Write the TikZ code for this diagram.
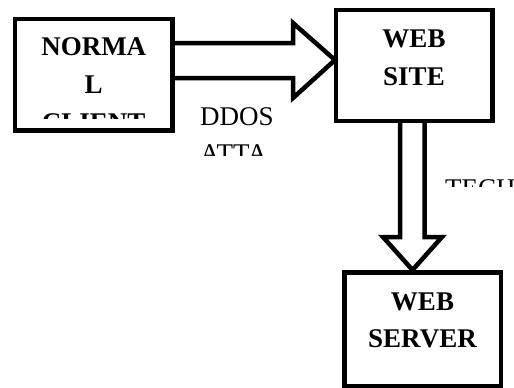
\documentclass[tikz,border=0pt]{standalone}
\usepackage{fontspec}
\setmainfont{Liberation Serif}
\usetikzlibrary{calc}
\begin{document}
\begin{tikzpicture}[x=1pt,y=-1pt,
  box/.style={draw, line width=4.5pt, inner sep=0pt, outer sep=0pt},
  fatarrow/.style={draw, line width=4.5pt, line join=miter},
  boxtext/.style={font=\fontsize{27}{38}\selectfont\bfseries, inner sep=0pt, anchor=base},
  plaintext/.style={font=\fontsize{27}{38}\selectfont, inner sep=0pt, anchor=base west}]
\useasboundingbox (0,0) rectangle (514,388);
\clip (0,0) rectangle (514,388);

% boxes
\node[box, minimum width=157.5pt, minimum height=111.5pt] (client) at (93.75,74.75) {};
\node[box, minimum width=156.5pt, minimum height=111pt] (site) at (414.25,65.5) {};
\node[box, minimum width=156.5pt, minimum height=113.5pt] (server) at (422.75,329.25) {};

% hollow arrow: client -> site
\draw[fatarrow] (client.east |- 0,43) -- (293,43) -- (293,23)
  -- ([xshift=-1pt]site.west |- 0,60) -- (293,98) -- (293,78) -- (client.east |- 0,78);

% hollow arrow: site -> server
\draw[fatarrow] (400,0 |- site.south) -- (400,237) -- (383,237)
  -- ([yshift=2.5pt]server.north -| 412.5,0) -- (442,237) -- (424.5,237) -- (424.5,0 |- site.south);

% box labels
\begin{scope}
  \clip (20,24) rectangle (168,118);
  \node[boxtext] (t1) at (93.75,55) {NORMA};
  \node[boxtext] (t2) at (93.75,93) {L};
  \node[boxtext] (t3) at (93.75,131) {CLIENT};
\end{scope}
\node[boxtext] (s1) at (414,47) {WEB};
\node[boxtext] (s2) at (414,85) {SITE};
\node[boxtext] (v1) at (422.5,310) {WEB};
\node[boxtext] (v2) at (422.5,347) {SERVER};

% arrow labels
\begin{scope}
  \clip (195,100) rectangle (290,155);
  \node[plaintext] (d1) at (200,125) {DDOS};
  \node[plaintext] (d2) at (200,162) {ATTA};
\end{scope}
\begin{scope}
  \clip (440,170) rectangle (514,186);
  \node[plaintext] (e1) at (445,197) {TECH};
\end{scope}
\end{tikzpicture}
\end{document}
